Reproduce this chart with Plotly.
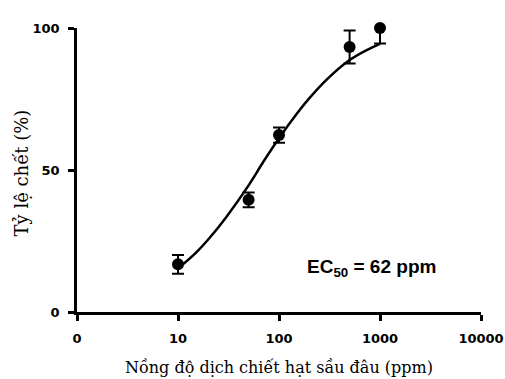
import plotly.graph_objects as go

# measured data
conc = [10, 50, 100, 500, 1000]
mortality = [16.8, 39.5, 62.3, 93.3, 100.0]
err = [3.3, 2.6, 2.7, 5.8, 5.5]

# fitted curve
curve_x = [10, 15, 20, 30, 50, 70, 100, 150, 200, 300, 500, 700, 1000]
curve_y = [15.3, 20.8, 25.6, 33.4, 44.6, 52.9, 61.2, 69.8, 75.3, 82.0, 88.7, 91.8, 94.4]

xtick_vals = [1, 10, 100, 1000, 10000]
xtick_text = ["0", "10", "100", "1000", "10000"]
ytick_vals = [0, 50, 100]
ytick_text = ["0", "50", "100"]

x_title = "Nồng độ dịch chiết hạt sầu đâu (ppm)"
y_title = "Tỷ lệ chết (%)"

tickfont = dict(family="DejaVu Sans", size=13, color="black", weight="bold")

fig = go.Figure()
fig.add_trace(go.Scatter(x=curve_x, y=curve_y, mode="lines",
                         line=dict(color="black", width=2.5, shape="spline"),
                         hoverinfo="skip", cliponaxis=False))
fig.add_trace(go.Scatter(x=conc, y=mortality, mode="markers",
                         marker=dict(color="black", size=12),
                         error_y=dict(type="data", array=err, color="black",
                                      thickness=2, width=6),
                         cliponaxis=False))

fig.add_annotation(x=0.729, y=0.155, xref="paper", yref="paper",
                   xanchor="center", yanchor="middle",
                   text="<b>EC<sub>50</sub> = 62 ppm</b>", showarrow=False,
                   font=dict(family="Liberation Sans, Arial", size=19, color="black"))
fig.add_annotation(x=0.5, y=-0.194, xref="paper", yref="paper",
                   xanchor="center", yanchor="middle", text=x_title, showarrow=False,
                   font=dict(family="DejaVu Serif", size=16, color="black"))
fig.add_annotation(x=-0.137, y=0.49, xref="paper", yref="paper",
                   xanchor="center", yanchor="middle", textangle=-90,
                   text=y_title, showarrow=False,
                   font=dict(family="DejaVu Serif", size=18, color="black"))

fig.update_layout(
    width=505, height=379,
    margin=dict(l=77, r=24, t=28, b=67),
    paper_bgcolor="white", plot_bgcolor="white",
    showlegend=False,
    xaxis=dict(type="log", range=[0, 4], tickvals=xtick_vals, ticktext=xtick_text,
               showline=True, linecolor="black", linewidth=2.5,
               ticks="outside", ticklen=6, tickwidth=2.5, tickcolor="black",
               showgrid=False, zeroline=False, ticklabelstandoff=7,
               automargin=False, ticklabeloverflow="allow", tickfont=tickfont),
    yaxis=dict(range=[0, 100], tickvals=ytick_vals, ticktext=ytick_text,
               showline=True, linecolor="black", linewidth=2.5,
               ticks="outside", ticklen=6, tickwidth=2.5, tickcolor="black",
               showgrid=False, zeroline=False, ticklabelstandoff=6,
               automargin=False, tickfont=tickfont),
)

fig.write_html("out.html", config={"displayModeBar": False},
               post_script="document.body.style.margin='0px';document.body.style.overflow='hidden';")
